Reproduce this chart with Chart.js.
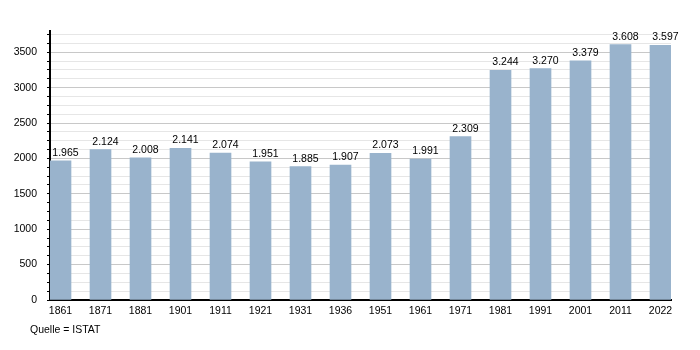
<!DOCTYPE html>
<html>
<head>
<meta charset="utf-8">
<script src="https://cdn.jsdelivr.net/npm/chart.js@4"></script>
<style>
    html, body { margin: 0; padding: 0; background: #fff; }
    #wrap { position: relative; width: 700px; height: 350px; }
    #source {
        position: absolute; left: 30px; top: 323px;
        font: 10.5px "Liberation Sans", Arial, sans-serif; color: #000;
    }
</style>
</head>
<body>
<div id="wrap">
    <canvas id="chart" width="700" height="350"></canvas>
    <div id="source">Quelle = ISTAT</div>
</div>
<script>
const years = ['1861', '1871', '1881', '1901', '1911', '1921', '1931', '1936',
    '1951', '1961', '1971', '1981', '1991', '2001', '2011', '2022'];
const population = [1965, 2124, 2008, 2141, 2074, 1951, 1885, 1907,
    2073, 1991, 2309, 3244, 3270, 3379, 3608, 3597];
const yTicks = [0, 500, 1000, 1500, 2000, 2500, 3000, 3500];

const FONT = '"Liberation Sans", Arial, sans-serif';

function dotted(n) {
    return String(n).replace(/\B(?=(\d{3})+(?!\d))/g, '.');
}

// value above each bar, nudged a bit right like the original
const valueLabels = {
    id: 'valueLabels',
    afterDatasetsDraw(chart) {
        const { ctx } = chart;
        const meta = chart.getDatasetMeta(0);
        ctx.save();
        ctx.font = `10.5px ${FONT}`;
        ctx.fillStyle = '#000';
        ctx.textAlign = 'center';
        ctx.textBaseline = 'alphabetic';
        meta.data.forEach((bar, i) => {
            ctx.fillText(dotted(population[i]), bar.x + 5, bar.y - 5);
        });
        ctx.restore();
    },
};

new Chart(document.getElementById('chart'), {
    type: 'bar',
    data: {
        datasets: [{
            data: population.map((v, i) => ({ x: i, y: v })),
            backgroundColor: '#99b3cc',
            borderWidth: 0,
            barThickness: 21,
        }],
    },
    options: {
        responsive: false,
        animation: false,
        layout: { padding: { top: 31, right: 29, bottom: 30, left: 0 } },
        plugins: {
            legend: { display: false },
            tooltip: { enabled: false },
        },
        scales: {
            x: {
                type: 'linear',
                offset: false,
                min: -0.2625,
                max: 15.2625,
                afterBuildTicks(scale) {
                    scale.ticks = years.map((_, i) => ({ value: i }));
                },
                afterFit(scale) { scale.height = 20; },
                grid: { display: false, drawTicks: false, offset: false },
                border: { color: '#000', width: 2 },
                ticks: {
                    padding: 5,
                    color: '#000',
                    font: { family: FONT, size: 10.5 },
                    maxRotation: 0,
                    autoSkip: false,
                    callback: (v) => years[v],
                },
            },
            y: {
                min: 0,
                max: 3800,
                afterBuildTicks(scale) {
                    const t = [];
                    for (let v = 0; v <= 3750; v += 125) t.push({ value: v });
                    scale.ticks = t;
                },
                afterFit(scale) { scale.width = 50; },
                border: { color: '#000', width: 2 },
                grid: {
                    color: (c) => (yTicks.includes(c.tick.value) ? '#c8c8c8' : '#e6e6e6'),
                    tickColor: '#000',
                    tickLength: 3,
                },
                ticks: {
                    padding: 10,
                    color: '#000',
                    font: { family: FONT, size: 10.5 },
                    autoSkip: false,
                    callback: (v) => (yTicks.includes(v) ? String(v) : ''),
                },
            },
        },
    },
    plugins: [valueLabels],
});
</script>
</body>
</html>
